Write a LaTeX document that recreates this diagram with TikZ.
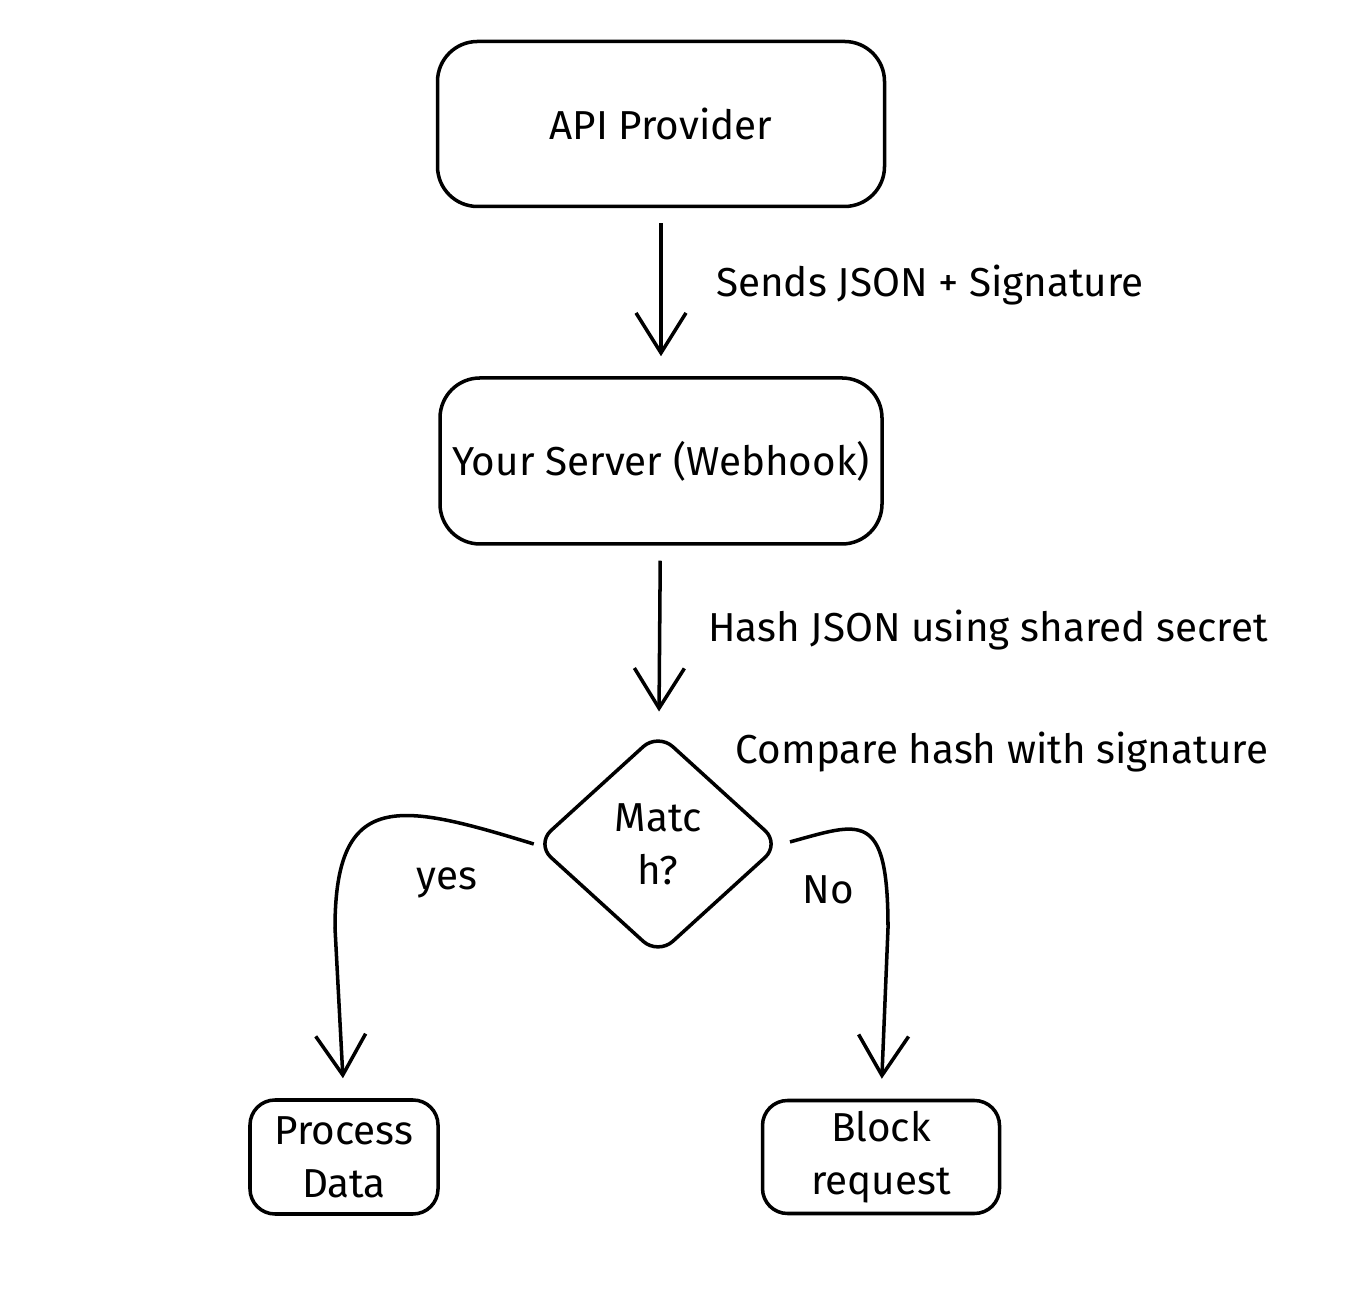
\documentclass[tikz,border=0pt]{standalone}
\usepackage{fontspec}
\setmainfont{Fira Sans}
\usetikzlibrary{shapes.geometric,arrows.meta}
\tikzset{
  box/.style={draw, line width=1pt, rounded corners=4mm, align=center, inner sep=1mm},
  flow/.style={line width=1pt, -{Straight Barb[length=4mm,width=5mm,line width=1pt]}, shorten >=2mm, shorten <=1.5mm},
  note/.style={font=\fontsize{11.5}{14}\selectfont}
}
\begin{document}
\begin{tikzpicture}[font=\fontsize{11.5}{15}\selectfont]
	\useasboundingbox (0,0) rectangle (137.2mm,128.8mm);
	% boxes
	\node[box, minimum width=44.7mm, minimum height=16.5mm] (api) at (66.1mm,116.4mm) {API Provider};
	\node[box, minimum width=44.2mm, minimum height=16.6mm] (server) at (66.1mm,82.7mm) {Your Server (Webhook)};
	\node[draw, line width=1pt, diamond, aspect=1.1, minimum width=24.5mm, minimum height=22.3mm, inner sep=0pt, rounded corners=2mm, align=center] (match) at (65.8mm,44.4mm) {Matc\\h?};
	\node[box, rounded corners=2.5mm, minimum width=18.8mm, minimum height=11.4mm] (proc) at (34.4mm,13.1mm) {Process\\Data};
	\node[box, rounded corners=2.5mm, minimum width=23.7mm, minimum height=11.3mm] (blk) at (88.1mm,13.1mm) {Block\\request};
	% arrows
	\draw[flow] (api) -- (server);
	\draw[flow] (server) -- (match);
	\draw[flow, shorten <=0mm] (match.west) .. controls (40mm,48.5mm) and (33.5mm,50mm) .. (33.5mm,36mm) -- (proc.north);
	\draw[flow, shorten <=0.8mm] (match.east) .. controls (86mm,46.5mm) and (88.8mm,48mm) .. (88.8mm,36mm) -- (blk.north);
	% labels
	\node[note] (sends) at (93mm,100.3mm) {Sends JSON + Signature};
	\node[note] (hash) at (98.8mm,65.8mm) {Hash JSON using shared secret};
	\node[note] (cmp) at (100.2mm,53.6mm) {Compare hash with signature};
	\node[note] (yes) at (44.7mm,40.5mm) {yes};
	\node[note] (no) at (82.8mm,39.8mm) {No};
\end{tikzpicture}
\end{document}
